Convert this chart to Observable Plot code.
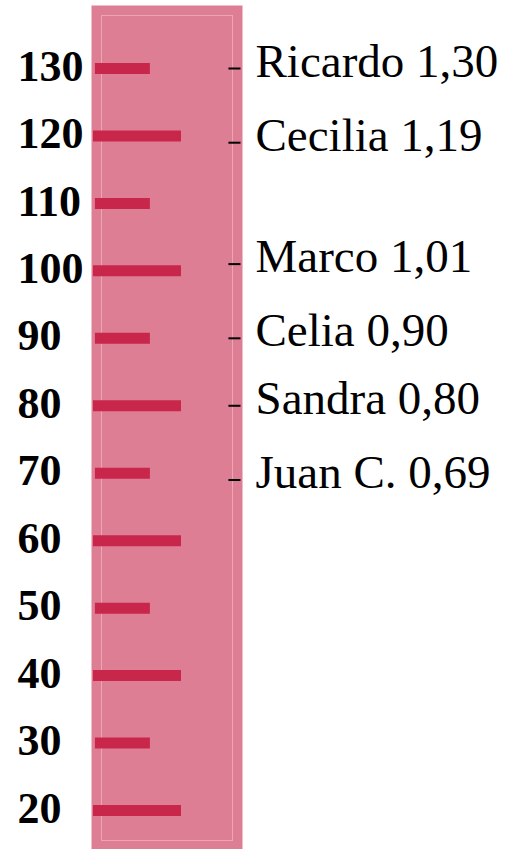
<!DOCTYPE html>
<html>
<head>
<meta charset="utf-8">
<script src="https://cdn.jsdelivr.net/npm/d3@7"></script>
<script src="https://cdn.jsdelivr.net/npm/@observablehq/plot@0.6"></script>
<style>
  html, body { margin: 0; padding: 0; background: #fff; }
</style>
</head>
<body>
<div id="chart"></div>
<script>
// Ruler scale marks (cm)
const ticks = [20, 30, 40, 50, 60, 70, 80, 90, 100, 110, 120, 130];
// Children and their heights (m)
const names = ["Ricardo", "Cecilia", "Marco", "Celia", "Sandra", "Juan C."];
const heights = [1.30, 1.19, 1.01, 0.90, 0.80, 0.69];

const people = names.map((n, i) => ({name: n, h: heights[i], cm: heights[i] * 100}));
const fmt = v => v.toFixed(2).replace(".", ",");

const plot = Plot.plot({
  width: 514,
  height: 849,
  marginLeft: 91,
  marginRight: 272,
  marginTop: 5,
  marginBottom: 0,
  x: {domain: [0, 1], axis: null},
  y: {domain: [20, 130], range: [810, 68], axis: null},
  style: {fontFamily: "Liberation Serif, Times New Roman, serif", background: "white", overflow: "visible"},
  marks: [
    Plot.frame({fill: "#de7e94", stroke: "none"}),
    Plot.frame({stroke: "#eba5b5", strokeWidth: 1, inset: 10, insetBottom: 9}),
    Plot.ruleY(ticks, {
      y: d => d,
      x1: d => d % 20 === 0 ? 0.013 : 0.026,
      x2: d => d % 20 === 0 ? 0.596 : 0.39,
      stroke: "#c8264a",
      strokeWidth: 11
    }),
    Plot.text(ticks, {
      y: d => d,
      text: d => String(d),
      frameAnchor: "left",
      dx: -74,
      dy: -2,
      textAnchor: "start",
      fontWeight: "bold",
      fontSize: 44,
      letterSpacing: -1,
      fill: "#000"
    }),
    Plot.ruleY(people, {
      y: "cm",
      x1: 0.91,
      x2: 0.99,
      stroke: "#000",
      strokeWidth: 2
    }),
    Plot.text(people, {
      y: "cm",
      text: d => `${d.name} ${fmt(d.h)}`,
      frameAnchor: "right",
      dx: 13,
      dy: -7,
      textAnchor: "start",
      fontSize: 47,
      fill: "#000"
    })
  ]
});
document.getElementById("chart").appendChild(plot);
</script>
</body>
</html>
